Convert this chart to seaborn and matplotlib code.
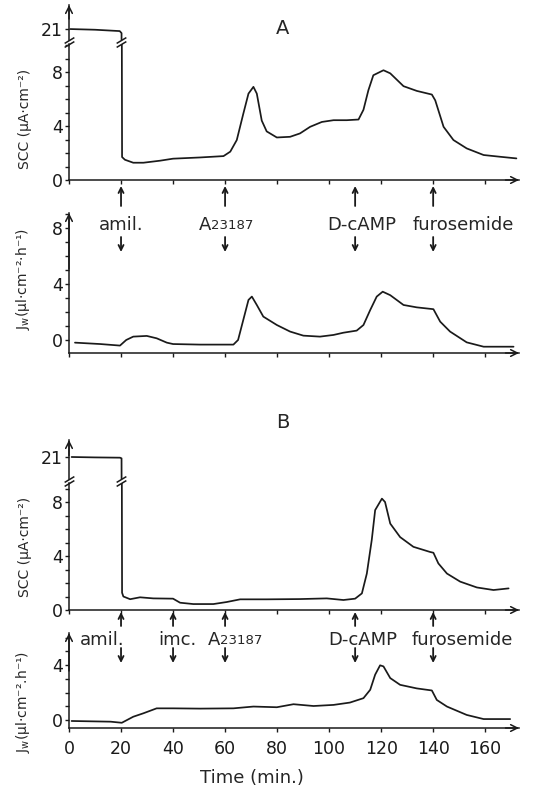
import matplotlib
matplotlib.use("Agg")
import matplotlib.pyplot as plt
from matplotlib.ticker import MultipleLocator
import seaborn as sns

# ---------------- data ----------------
a_scc_t = [0.5, 10, 19.5, 20.2, 20.4, 21.5, 24.7, 28.6, 35, 40, 50.4, 59.4, 62, 64.5, 67, 69,
           70.9, 72.2, 74.1, 76, 79.9, 85, 88.8, 92.7, 97.2, 101.7, 106.8, 111.3, 113.2, 115.1,
           117, 120.9, 123.5, 128.6, 133.7, 139.5, 140.8, 144, 147.8, 152.9, 159.4, 165.8, 172]
a_scc_v = [21.0, 20.95, 20.85, 20.7, 1.7, 1.5, 1.28, 1.28, 1.43, 1.58, 1.67, 1.77, 2.1, 2.96,
           4.9, 6.4, 6.9, 6.4, 4.4, 3.6, 3.15, 3.2, 3.45, 3.94, 4.3, 4.43, 4.43, 4.48, 5.2, 6.65,
           7.76, 8.13, 7.9, 6.95, 6.6, 6.33, 5.9, 3.94, 2.96, 2.34, 1.85, 1.72, 1.6]

a_jw_t = [2.3, 12, 19.6, 22, 24.7, 29.9, 33.7, 37.6, 40, 50.4, 63.2, 65, 67, 69, 70.3, 72.2,
          74.7, 79.9, 85, 90.1, 96.5, 101.7, 105.5, 110.6, 113.2, 115.8, 118.3, 120.6, 123.5,
          128.6, 133.7, 140.1, 142.7, 146.5, 152.9, 159.4, 165.8, 170.9]
a_jw_v = [-0.19, -0.29, -0.4, 0.0, 0.24, 0.29, 0.12, -0.19, -0.29, -0.33, -0.33, 0.0, 1.43,
          2.86, 3.1, 2.5, 1.67, 1.07, 0.6, 0.31, 0.24, 0.36, 0.52, 0.67, 1.07, 2.14, 3.1, 3.45,
          3.2, 2.5, 2.33, 2.2, 1.31, 0.6, -0.17, -0.48, -0.48, -0.48]

b_scc_t = [1, 10, 19.6, 20.2, 20.4, 20.9, 23.5, 27.3, 32.4, 40, 42.7, 47.8, 55.5, 60.6, 65.8,
           76, 88.8, 99.1, 105.5, 110, 112.6, 114.5, 116.4, 117.7, 120.3, 121.5, 123.5, 127.3,
           132.4, 138.8, 140.1, 142, 145.3, 150.4, 156.8, 163.2, 169]
b_scc_v = [21.0, 20.97, 20.95, 20.9, 1.28, 1.0, 0.8, 0.94, 0.86, 0.84, 0.54, 0.44, 0.44, 0.59,
           0.79, 0.79, 0.81, 0.86, 0.74, 0.84, 1.23, 2.7, 5.2, 7.4, 8.25, 8.0, 6.4, 5.4, 4.68,
           4.3, 4.24, 3.45, 2.7, 2.1, 1.67, 1.48, 1.6]

b_jw_t = [1, 16, 20.3, 24.7, 28.6, 33.7, 40, 50.4, 63.2, 70.9, 79.9, 86.3, 94, 101.7, 108,
          113.2, 115.8, 117.7, 119.6, 120.9, 123.5, 127.3, 133.7, 139.5, 141.4, 145.3, 152.9,
          159.4, 169.6]
b_jw_v = [-0.07, -0.12, -0.2, 0.24, 0.49, 0.85, 0.85, 0.83, 0.85, 0.98, 0.93, 1.15, 1.02, 1.1,
          1.27, 1.59, 2.2, 3.3, 3.98, 3.9, 3.05, 2.56, 2.3, 2.15, 1.46, 0.98, 0.37, 0.07, 0.07]

events_a = ["amil.", "A23187", "D-cAMP", "furosemide"]
events_a_t = [20, 60, 110, 140]
events_b = ["amil.", "imc.", "A23187", "D-cAMP", "furosemide"]
events_b_t = [20, 40, 60, 110, 140]

x_ticks = [0, 20, 40, 60, 80, 100, 120, 140, 160]
break_t = 20

# ---------------- style ----------------
sns.set_theme(style="ticks")
plt.rcParams["font.family"] = ["DejaVu Sans"]
plt.rcParams["axes.linewidth"] = 1.1

W, H = 543, 797
fig = plt.figure(figsize=(W / 100, H / 100), dpi=100)
XL, XR = 69, 519
XMAX = 173


def make_ax(top, bottom):
    return fig.add_axes([XL / W, 1 - bottom / H, (XR - XL) / W, (bottom - top) / H])


def style_ax(ax, ylim, xaxis=True, xlabels=False):
    ax.set_xlim(0, XMAX)
    ax.set_ylim(*ylim)
    ax.set_facecolor("none")
    ax.spines["top"].set_visible(False)
    ax.spines["right"].set_visible(False)
    for s in ax.spines.values():
        s.set_color("k")
    ax.tick_params(axis="both", which="both", direction="out", length=3, width=1,
                   color="k", labelsize=12.5, pad=1.5, labelcolor="k")
    ax.set_xlabel("")
    ax.set_ylabel("")
    if xaxis:
        ax.set_xticks(x_ticks)
        if not xlabels:
            ax.set_xticklabels([])
        else:
            ax.tick_params(axis="x", pad=6)
        ax.annotate("", xy=(1.0, 0), xytext=(0.97, 0), xycoords="axes fraction",
                    arrowprops=dict(arrowstyle="->", lw=1.1, color="k",
                                    shrinkA=0, shrinkB=0))
    else:
        ax.spines["bottom"].set_visible(False)
        ax.set_xticks([])


def top_arrow(ax):
    ax.annotate("", xy=(0, 1.0), xytext=(0, 0.6), xycoords="axes fraction",
                arrowprops=dict(arrowstyle="->", lw=1.1, color="k", shrinkA=0, shrinkB=0))


def line(ax, t, v):
    sns.lineplot(x=t, y=v, ax=ax, color="k", lw=1.25, estimator=None, sort=False)


slash = [(-1, -0.6), (1, 0.6)]


def broken_scc(top_up, bot_up, top_lo, bot_lo, ylim_up, ylim_lo, t, v):
    ax_u = make_ax(top_up, bot_up)
    ax_l = make_ax(top_lo, bot_lo)
    line(ax_u, t, v)
    line(ax_l, t, v)
    style_ax(ax_u, ylim_up, xaxis=False)
    style_ax(ax_l, ylim_lo)
    ax_u.set_yticks([21])
    ax_l.set_yticks([0, 4, 8])
    ax_l.yaxis.set_minor_locator(MultipleLocator(1))
    top_arrow(ax_u)
    for ax, y in ((ax_u, 0), (ax_l, 1)):
        ax.plot([0, break_t], [y, y], transform=ax.get_xaxis_transform(), ls="none",
                marker=slash, ms=7, mew=1.1, color="k", clip_on=False)
    return ax_u, ax_l


# Panel A
axA_u, axA_l = broken_scc(5, 40, 44, 180, (20.19, 22.78), (0, 136 / 13.5),
                          a_scc_t, a_scc_v)
axA_j = make_ax(213, 353)
line(axA_j, a_jw_t, a_jw_v)
style_ax(axA_j, (-0.93, 9.07))
axA_j.set_yticks([0, 4, 8])
axA_j.yaxis.set_minor_locator(MultipleLocator(1))
top_arrow(axA_j)

# Panel B
axB_u, axB_l = broken_scc(440, 479, 483, 610, (19.37, 22.26), (0, 127 / 13.5),
                          b_scc_t, b_scc_v)
axB_j = make_ax(633, 728)
line(axB_j, b_jw_t, b_jw_v)
style_ax(axB_j, (-0.58, 6.33), xlabels=True)
axB_j.set_yticks([0, 4])
axB_j.yaxis.set_minor_locator(MultipleLocator(1))
top_arrow(axB_j)


# ---------------- event annotations ----------------
def event(ax, t, label, ys, dx, ha):
    up_tip, up_tail, ylab, dn_tail, dn_tip = ys
    coords = ("data", "figure pixels")
    ap = dict(arrowstyle="->", lw=1.3, color="k", shrinkA=0, shrinkB=0,
              mutation_scale=9)
    ax.annotate("", xy=(t, H - up_tip), xytext=(t, H - up_tail), xycoords=coords,
                textcoords=coords, arrowprops=ap, annotation_clip=False)
    ax.annotate("", xy=(t, H - dn_tip), xytext=(t, H - dn_tail), xycoords=coords,
                textcoords=coords, arrowprops=ap, annotation_clip=False)
    if label == "A23187":
        ta = ax.annotate("A", xy=(t, H - ylab), xycoords=coords, xytext=(dx, 0),
                         textcoords="offset pixels", ha="left", va="center_baseline",
                         fontsize=13, annotation_clip=False)
        ax.annotate("23187", xy=(1, 0.12), xycoords=ta, ha="left", va="bottom",
                    fontsize=9.5, annotation_clip=False)
    else:
        ax.annotate(label, xy=(t, H - ylab), xycoords=coords, xytext=(dx, 0),
                    textcoords="offset pixels", ha=ha, va="center_baseline",
                    fontsize=13, annotation_clip=False)


ys_a = (186, 206, 223, 237, 252)
dx_a = [0, -26, 7, 30]
for lab, t, dx in zip(events_a, events_a_t, dx_a):
    event(axA_j, t, lab, ys_a, dx, "center")

ys_b = (612, 626, 638, 648, 663)
dx_b = [3, 4, -17, 8, 29]
ha_b = ["right", "center", "left", "center", "center"]
for lab, t, dx, ha in zip(events_b, events_b_t, dx_b, ha_b):
    event(axB_j, t, lab, ys_b, dx, ha)

# ---------------- titles and labels ----------------
fig.text(283 / W, 1 - 28 / H, "A", ha="center", va="center", fontsize=14)
fig.text(283 / W, 1 - 422 / H, "B", ha="center", va="center", fontsize=14)

fig.text(25 / W, 1 - 119 / H, "SCC (μA·cm⁻²)", rotation=90, ha="center", va="center",
         fontsize=10)
fig.text(23 / W, 1 - 279 / H, r"$\mathregular{J_w}$(μl·cm⁻²·h⁻¹)", rotation=90,
         ha="center", va="center", fontsize=10)
fig.text(25 / W, 1 - 547 / H, "SCC (μA·cm⁻²)", rotation=90, ha="center", va="center",
         fontsize=10)
fig.text(23 / W, 1 - 702 / H, r"$\mathregular{J_w}$(μl·cm⁻².h⁻¹)", rotation=90,
         ha="center", va="center", fontsize=10)
fig.text(252 / W, 1 - 778 / H, "Time (min.)", ha="center", va="center", fontsize=13)

fig.savefig("out.png", dpi=100)
